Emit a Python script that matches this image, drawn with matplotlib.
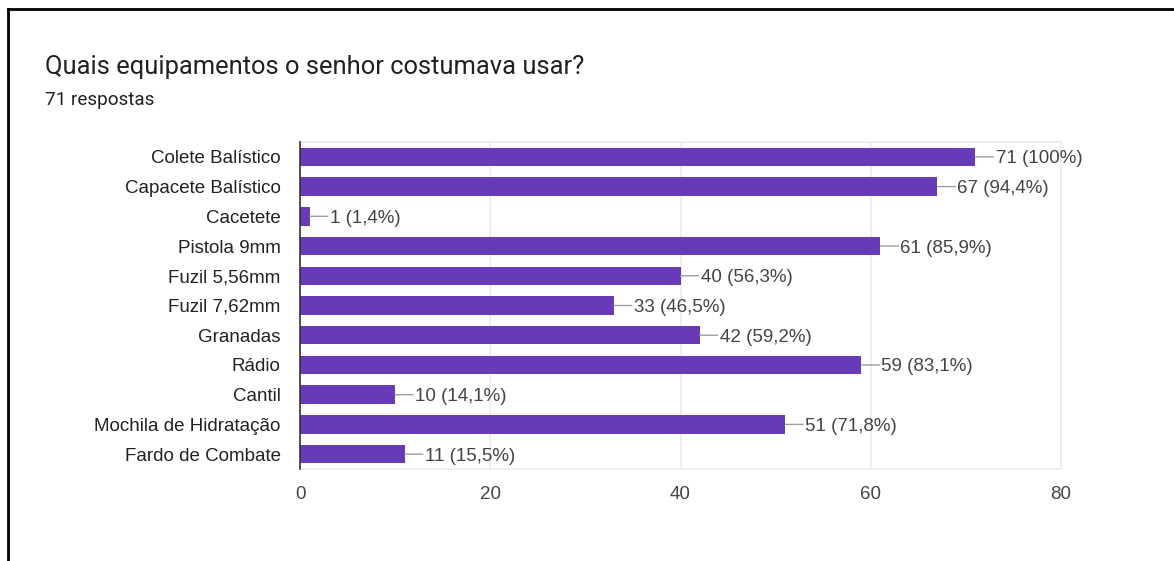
import numpy as np
import matplotlib.pyplot as plt
from matplotlib.lines import Line2D

plt.rcParams['font.family'] = ['Liberation Sans', 'DejaVu Sans']

# respostas por equipamento
categorias = ["Colete Balístico", "Capacete Balístico", "Cacetete", "Pistola 9mm",
              "Fuzil 5,56mm", "Fuzil 7,62mm", "Granadas", "Rádio", "Cantil",
              "Mochila de Hidratação", "Fardo de Combate"]
contagens = [71, 67, 1, 61, 40, 33, 42, 59, 10, 51, 11]
total = 71
xticks = [0, 20, 40, 60, 80]

fig = plt.figure(figsize=(11.74, 5.61), dpi=100)
ax = fig.add_axes([300 / 1174, 1 - 469 / 561, 761 / 1174, 327 / 561])

y = np.arange(len(categorias))
ax.barh(y, contagens, height=0.62, color='#673ab7', zorder=3)

for yi, c in zip(y, contagens):
    pct = c / total * 100
    txt = "{} ({}%)".format(c, "100" if c == total else "{:.1f}".format(pct).replace(".", ","))
    # linha de ligação horizontal
    ax.annotate('', xy=(c, yi), xytext=(13, 0), textcoords='offset points',
                arrowprops=dict(arrowstyle='-', color='#9e9e9e', lw=1,
                                shrinkA=0, shrinkB=0))
    ax.annotate(txt, xy=(c, yi), xytext=(14.5, 0), textcoords='offset points',
                va='center_baseline', ha='left', fontsize=13.5, color='#444444')

ax.set_xlim(0, 80)
ax.set_ylim(len(categorias) - 0.5, -0.5)
ax.set_yticks(y)
ax.set_yticklabels(categorias, fontsize=13.5, color='#222222', va='center_baseline')
ax.set_xticks(xticks)
ax.set_xticklabels([str(t) for t in xticks], fontsize=13.5, color='#444444')
ax.tick_params(axis='y', length=0, pad=14)
ax.tick_params(axis='x', length=0, pad=12)

ax.grid(axis='x', color='#ebebeb', lw=1.2, zorder=0)
for side in ['top', 'right', 'bottom']:
    ax.spines[side].set_color('#ebebeb')
    ax.spines[side].set_linewidth(1.2)
ax.spines['left'].set_color('#333333')
ax.spines['left'].set_linewidth(1.2)
ax.spines['left'].set_zorder(4)

fig.text(45 / 1174, 1 - 67 / 561, "Quais equipamentos o senhor costumava usar?",
         fontsize=18.4, color='#202124', va='center', ha='left', family='Roboto')
fig.text(45 / 1174, 1 - 100 / 561, "71 respostas", fontsize=13.6, color='#202124',
         va='center', ha='left', family='Roboto')

# moldura preta (topo e lado esquerdo)
fig.add_artist(Line2D([7.5 / 1174, 1], [1 - 8.5 / 561, 1 - 8.5 / 561],
                      transform=fig.transFigure, color='black', lw=2))
fig.add_artist(Line2D([7.5 / 1174, 7.5 / 1174], [0, 1 - 8.5 / 561],
                      transform=fig.transFigure, color='black', lw=2))

fig.savefig("out.png", dpi=100, facecolor='white')
